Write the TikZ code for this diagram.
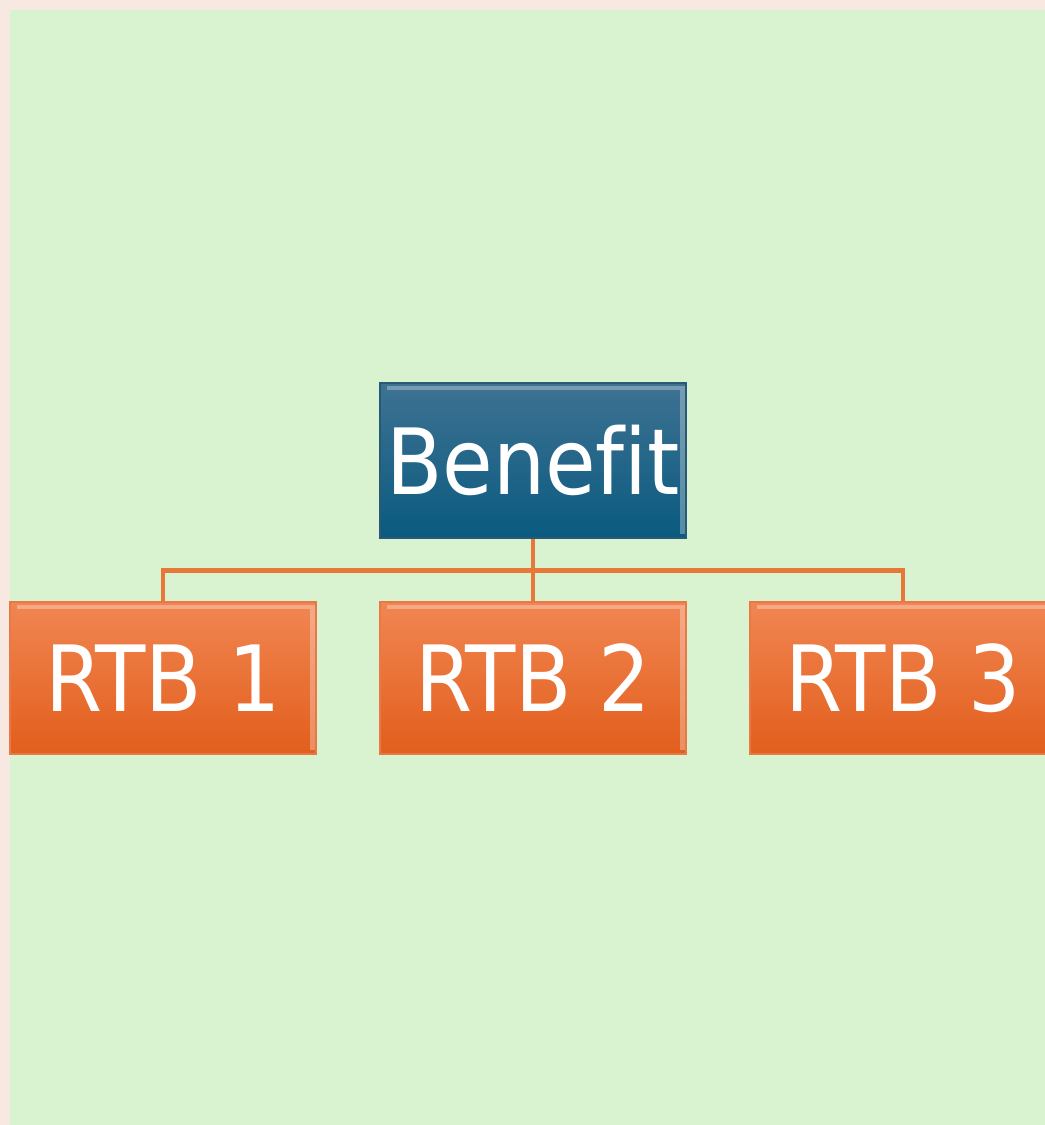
\documentclass[tikz,border=0pt]{standalone}
\usepackage{fontspec}
\setmainfont[Ligatures=NoCommon]{DejaVu Sans Condensed}
\usetikzlibrary{positioning}
\definecolor{pagefill}{RGB}{247,232,226}
\definecolor{slidefill}{RGB}{217,242,208}
\definecolor{benefittop}{RGB}{62,114,146}
\definecolor{benefitbot}{RGB}{10,90,128}
\definecolor{benefitdraw}{RGB}{40,90,120}
\definecolor{rtbtop}{RGB}{241,134,82}
\definecolor{rtbbot}{RGB}{226,94,28}
\definecolor{rtbdraw}{RGB}{232,120,70}
\definecolor{linkdraw}{RGB}{232,119,58}

\begin{document}
\begin{tikzpicture}[
  box/.style={rectangle, minimum width=3.06cm, text=white, inner sep=0pt,
              font=\fontsize{26}{30}\selectfont, line width=0.6pt,
              path picture={
                \draw[white, opacity=0.3, line width=1.2pt]
                  ([xshift=2pt,yshift=-1.5pt]path picture bounding box.north west)
                  -- ([xshift=-1pt,yshift=-1.5pt]path picture bounding box.north east)
                  -- ([xshift=-1pt,yshift=1pt]path picture bounding box.south east);}},
  benefitbox/.style={box, minimum height=1.55cm, top color=benefittop,
                     bottom color=benefitbot, draw=benefitdraw},
  rtbbox/.style={box, minimum height=1.52cm, top color=rtbtop,
                 bottom color=rtbbot, draw=rtbdraw},
  link/.style={draw=linkdraw, line width=1.4pt}
]
\useasboundingbox (0,0) rectangle (10.45,-11.25);
\clip (0,0) rectangle (10.45,-11.25);

% Page and slide background
\fill[pagefill] (0,0) rectangle (10.45,-11.25);
\fill[slidefill] (0.10,-0.10) rectangle (10.45,-11.25);

% Top box
\node[benefitbox] (benefit) at (5.33,-4.605) {Benef{}it};

% Reasons to believe
\node[rtbbox] (rtb1) at (1.63,-6.78) {RTB 1};
\node[rtbbox] (rtb2) at (5.33,-6.78) {RTB 2};
\node[rtbbox] (rtb3) at (9.03,-6.78) {RTB 3};

% Connectors
\draw[link] (benefit.south) -- ++(0,-0.31) -| (rtb1.north);
\draw[link] (benefit.south) -- ++(0,-0.31) -| (rtb3.north);
\draw[link] (benefit.south) -- (rtb2.north);

\end{tikzpicture}
\end{document}
